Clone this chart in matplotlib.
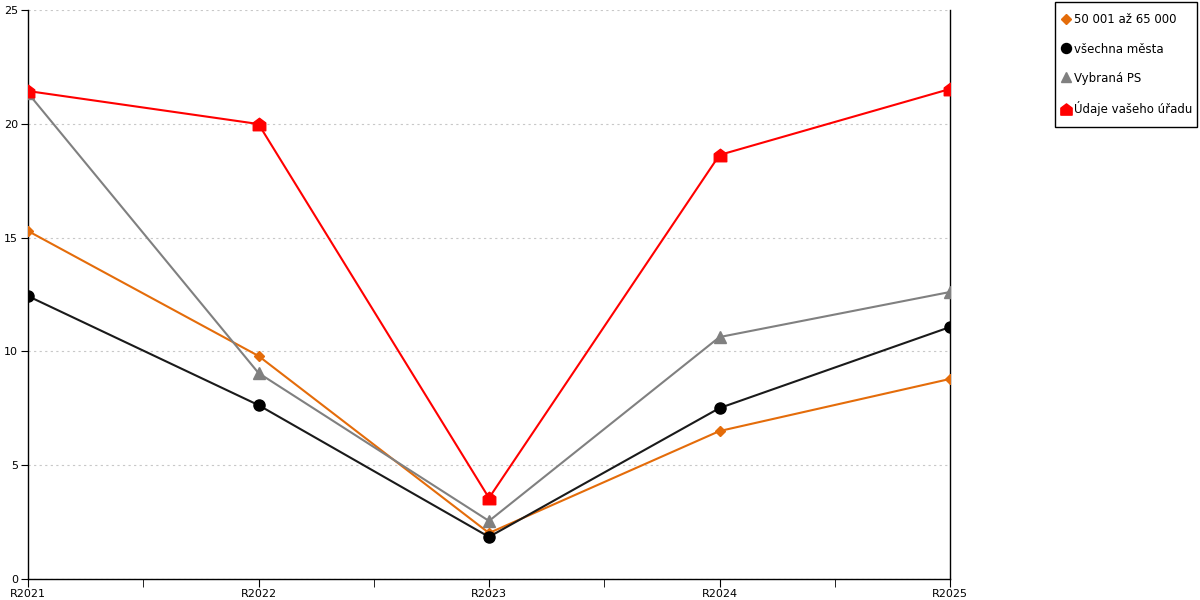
import matplotlib
matplotlib.use("Agg")
import matplotlib.pyplot as plt
from matplotlib.path import Path
from matplotlib.patches import Rectangle
import numpy as np

categories = ["R2021", "R2022", "R2023", "R2024", "R2025"]
s_orange = [15.29, 9.80, 2.02, 6.50, 8.79]
s_black = [12.43, 7.64, 1.85, 7.51, 11.07]
s_gray = [21.35, 9.05, 2.55, 10.63, 12.61]
s_red = [21.44, 19.99, 3.56, 18.63, 21.53]
labels = ["50 001 až 65 000", "všechna města", "Vybraná PS", "Údaje vašeho úřadu"]

house = Path([(-1, -1), (1, -1), (1, 0.25), (0, 1), (-1, 0.25), (-1, -1)],
             [Path.MOVETO, Path.LINETO, Path.LINETO, Path.LINETO, Path.LINETO, Path.CLOSEPOLY])

plt.rcParams['font.family'] = ['DejaVu Sans']
fig = plt.figure(figsize=(12, 6), dpi=100)
ax = fig.add_axes([28/1200, 21/600, 922/1200, 569/600])

x = np.arange(len(categories))
ax.plot(x, s_orange, color="#E46C0A", lw=1.5, marker="D", ms=5.5, label=labels[0], zorder=3)
ax.plot(x, s_black, color="#1a1a1a", lw=1.5, marker="o", ms=8, markerfacecolor="black", markeredgecolor="black", label=labels[1], zorder=3)
ax.plot(x, s_gray, color="#808080", lw=1.5, marker="^", ms=8, label=labels[2], zorder=3)
ax.plot(x, s_red, color="#FF0000", lw=1.5, marker=house, ms=9, label=labels[3], zorder=3)

ax.set_xlim(0, 4)
ax.set_ylim(0, 25)
ax.set_yticks([0, 5, 10, 15, 20, 25])
ax.set_xticks(x)
ax.set_xticklabels(categories)
ax.set_xticks([0.5, 1.5, 2.5, 3.5], minor=True)
ax.tick_params(axis='x', which='both', length=6, direction='out', labelsize=8, pad=1)
ax.tick_params(axis='y', length=5, direction='out', labelsize=8, pad=2)
ax.grid(axis='y', color="#c8c8c8", linestyle=(0, (2, 3)), lw=0.8)
ax.set_axisbelow(True)
ax.spines['top'].set_visible(False)
for sp in ['left', 'bottom', 'right']:
    ax.spines[sp].set_color('black')
    ax.spines[sp].set_linewidth(1)

leg = fig.legend(loc='upper left', bbox_to_anchor=(1055/1200, 1 - 7/600), frameon=False,
                 fontsize=8.5, handlelength=0.7,
                 handletextpad=0.4, labelspacing=1.36, borderpad=0.55, borderaxespad=0,
                 markerscale=0.9)
for line in leg.get_lines():
    line.set_linestyle('None')

fig.patches.append(Rectangle((1055/1200, 1 - 127/600), 142/1200, 125/600,
                             transform=fig.transFigure, fill=False,
                             edgecolor='black', linewidth=1))

fig.savefig("out.png", dpi=100)
